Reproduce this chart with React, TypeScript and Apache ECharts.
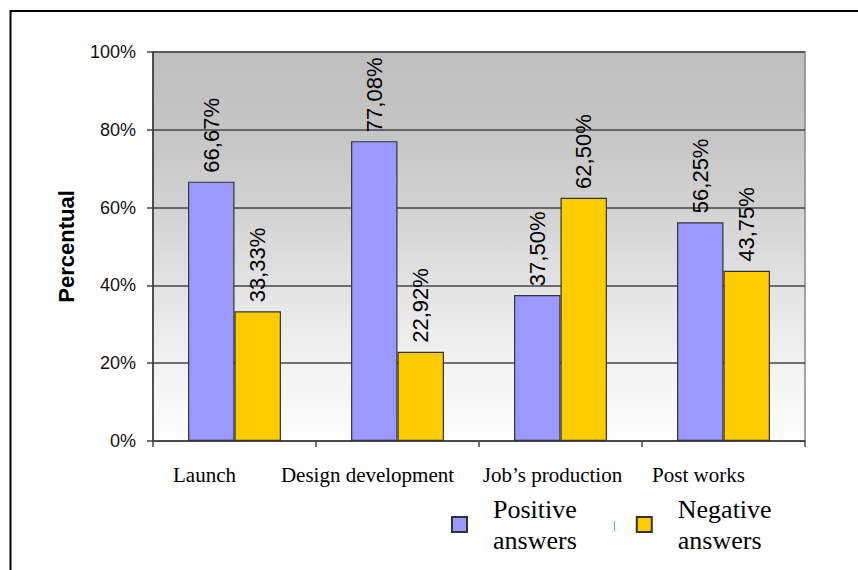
import React, { useEffect, useRef } from "react";
import * as echarts from "echarts";

const categories = ["Launch", "Design development", "Job\u2019s production", "Post works"];
const positiveValues = [66.67, 77.08, 37.5, 56.25];
const negativeValues = [33.33, 22.92, 62.5, 43.75];
const seriesNames = ["Positive\nanswers", "Negative\nanswers"];
const yAxisName = "Percentual";

// horizontal shift (px) of each category label relative to its category centre
const labelShift = [-30, -30, -8, -25];

export default function App() {
  const ref = useRef<HTMLDivElement>(null);
  useEffect(() => {
    if (!ref.current) return;
    const chart = echarts.init(ref.current, null, { renderer: "svg" });
    const rich: Record<string, any> = {};
    labelShift.forEach((s, i) => {
      rich["c" + i] = {
        fontFamily: "Liberation Serif",
        fontSize: 21,
        color: "#000",
        padding: s < 0 ? [0, -2 * s, 0, 0] : [0, 0, 0, 2 * s],
      };
    });
    const dataLabel = {
      show: true,
      position: "top",
      rotate: 90,
      align: "left",
      verticalAlign: "middle",
      distance: 9,
      fontFamily: "Liberation Sans",
      fontSize: 22,
      color: "#000",
      formatter: (p: any) => p.value.toFixed(2).replace(".", ",") + "%",
    };
    chart.setOption({
      animation: false,
      backgroundColor: "#fff",
      grid: { left: 153, right: 53, top: 52, bottom: 129, show: true,
        backgroundColor: new echarts.graphic.LinearGradient(0, 0, 0, 1, [
          { offset: 0, color: "#bebebe" },
          { offset: 0.2, color: "#c5c5c5" },
          { offset: 0.4, color: "#d2d2d2" },
          { offset: 0.6, color: "#e3e3e3" },
          { offset: 0.8, color: "#f2f2f2" },
          { offset: 1, color: "#fdfdfd" },
        ]),
        borderColor: "#888", borderWidth: 1.5 },
      legend: {
        left: 451,
        top: 487,
        padding: 0,
        itemWidth: 15,
        itemHeight: 15,
        itemGap: 59,
        icon: "rect",
        textStyle: {
          fontFamily: "Liberation Serif",
          fontSize: 26,
          lineHeight: 31,
          color: "#000",
          padding: [13, 0, 0, 21],
        },
      },
      xAxis: {
        type: "category",
        data: categories,
        axisLine: { lineStyle: { color: "#444", width: 1.5 } },
        axisTick: { show: true, length: 6, lineStyle: { color: "#444", width: 1.5 } },
        axisLabel: {
          margin: 23,
          interval: 0,
          formatter: (v: string, i: number) => `{c${i}|${v}}`,
          rich,
        },
      },
      yAxis: {
        type: "value",
        min: 0,
        max: 100,
        interval: 20,
        name: yAxisName,
        nameLocation: "middle",
        nameGap: 76,
        nameTextStyle: { fontFamily: "Liberation Sans", fontWeight: "bold", fontSize: 22, color: "#000" },
        axisLine: { show: true, lineStyle: { color: "#333", width: 1.5 } },
        axisTick: { show: true, length: 6, lineStyle: { color: "#444", width: 1.5 } },
        axisLabel: { margin: 17, fontFamily: "Liberation Sans", fontSize: 18, color: "#111", formatter: "{value}%" },
        splitLine: { lineStyle: { color: "#444", width: 1.5 } },
      },
      series: [
        {
          name: seriesNames[0],
          type: "bar",
          data: positiveValues,
          barGap: "0%",
          barCategoryGap: "43%",
          itemStyle: { color: "#9999ff", borderColor: "#333", borderWidth: 1.2 },
          label: dataLabel,
        },
        {
          name: seriesNames[1],
          type: "bar",
          data: negativeValues,
          barGap: "0%",
          barCategoryGap: "43%",
          itemStyle: { color: "#ffcc00", borderColor: "#333", borderWidth: 1.2 },
          label: dataLabel,
        },
      ],
      graphic: [
        { type: "rect", shape: { x: 10.5, y: 11, width: 1000, height: 800 }, style: { fill: "none", stroke: "#000", lineWidth: 2 }, silent: true },
        { type: "line", shape: { x1: 614.5, y1: 521, x2: 614.5, y2: 531 }, style: { stroke: "#4ab0e0", lineWidth: 1 }, silent: true },
      ],
    });
    return () => chart.dispose();
  }, []);
  return <div ref={ref} style={{ position: "fixed", left: 0, top: 0, width: 858, height: 570 }} />;
}
